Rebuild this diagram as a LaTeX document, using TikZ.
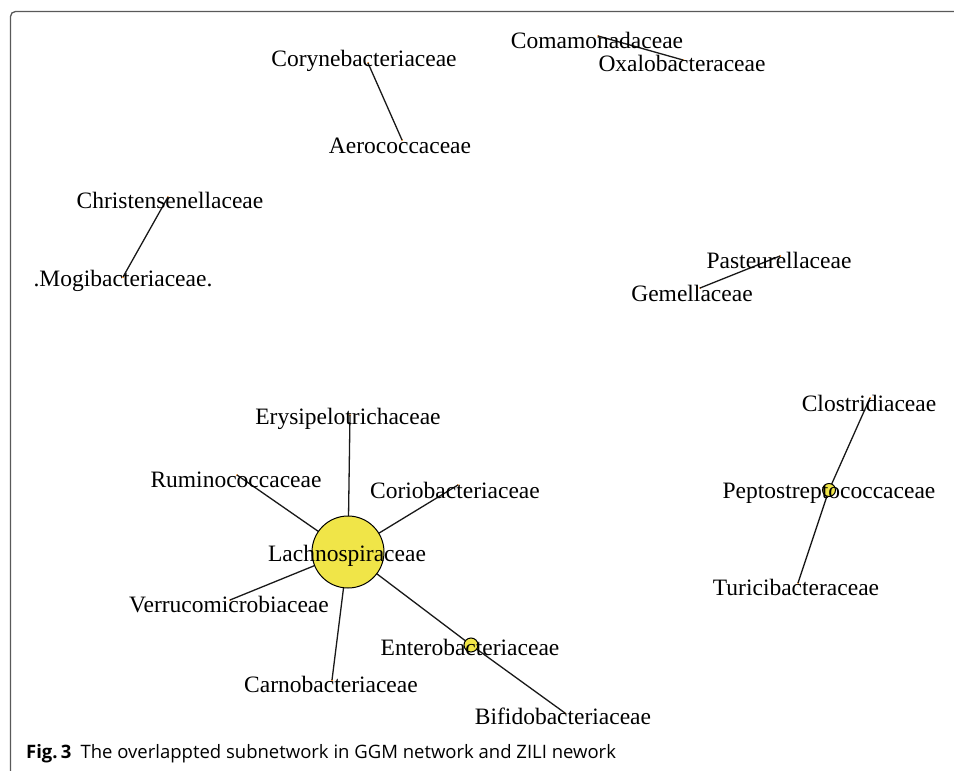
\documentclass[tikz,border=0pt]{standalone}
\usepackage{fontspec}
\setmainfont{Liberation Serif}
\newfontfamily\capfont{Open Sans}
\begin{document}
\begin{tikzpicture}[x=1pt,y=-1pt,
  lab/.style={font=\fontsize{23.5}{26}\selectfont, inner sep=0pt, anchor=base},
  dot/.style={circle, fill=orange, inner sep=0pt, minimum size=2pt},
  hub/.style={circle, draw=black, line width=1pt, fill={rgb,255:red,240;green,229;blue,72}, inner sep=0pt},
  edge/.style={draw=black!90, line width=1.3pt},
  frame/.style={draw=black!65, line width=1.3pt, rounded corners=5pt}]
\useasboundingbox (0,0) rectangle (954,771);
\fill[white] (0,0) rectangle (954,771);
\draw[frame] (10.5,771) -- (10.5,11.5) -- (954,11.5);
% vertices
\node[dot] (cory) at (368,63) {};
\node[dot] (aero) at (402,140) {};
\node[dot] (chri) at (168,197) {};
\node[dot] (mogi) at (123,277) {};
\node[dot] (coma) at (598,36) {};
\node[dot] (oxal) at (683,60) {};
\node[dot] (past) at (780,256) {};
\node[dot] (geme) at (700,288) {};
\node[dot] (erys) at (350,415) {};
\node[dot] (rumi) at (237,475) {};
\node[dot] (cori) at (458,485) {};
\node[dot] (verr) at (230,600) {};
\node[dot] (carn) at (332,680) {};
\node[dot] (bifi) at (565,713) {};
\node[dot] (clos) at (870,398) {};
\node[dot] (turi) at (798,583) {};
% edges
\path[edge] (cory.center) -- (aero.center);
\path[edge] (chri.center) -- (mogi.center);
\path[edge] (coma.center) -- (oxal.center);
\path[edge] (past.center) -- (geme.center);
\path[edge] (erys.center) -- (348,552);
\path[edge] (rumi.center) -- (348,552);
\path[edge] (cori.center) -- (348,552);
\path[edge] (verr.center) -- (348,552);
\path[edge] (carn.center) -- (348,552);
\path[edge] (471,645) -- (348,552);
\path[edge] (471,645) -- (bifi.center);
\path[edge] (clos.center) -- (829,490) -- (turi.center);
% hubs
\node[hub, minimum size=72pt] (lach) at (348,552) {};
\node[hub, minimum size=14pt] (ente) at (471,645) {};
\node[hub, minimum size=13pt] (pept) at (829,490) {};
% labels
\node[lab] (tcory) at (364,66) {Corynebacteriaceae};
\node[lab] (taero) at (400,153) {Aerococcaceae};
\node[lab] (tchri) at (170,208) {Christensenellaceae};
\node[lab] (tmogi) at (123,286) {.Mogibacteriaceae.};
\node[lab] (tcoma) at (597,48) {Comamonadaceae};
\node[lab] (toxal) at (682,71) {Oxalobacteraceae};
\node[lab] (tpast) at (779,268) {Pasteurellaceae};
\node[lab] (tgeme) at (692,301) {Gemellaceae};
\node[lab] (terys) at (348,424) {Erysipelotrichaceae};
\node[lab] (trumi) at (236,487) {Ruminococcaceae};
\node[lab] (tcori) at (455,498) {Coriobacteriaceae};
\node[lab] (tlach) at (347,561) {Lachnospiraceae};
\node[lab] (tverr) at (229,612) {Verrucomicrobiaceae};
\node[lab] (tcarn) at (331,692) {Carnobacteriaceae};
\node[lab] (tente) at (470,655) {Enterobacteriaceae};
\node[lab] (tbifi) at (563,724) {Bifidobacteriaceae};
\node[lab] (tclos) at (869,411) {Clostridiaceae};
\node[lab] (tpept) at (829,498) {Peptostreptococcaceae};
\node[lab] (tturi) at (796,595) {Turicibacteraceae};
% caption
\node[anchor=base west, inner sep=0pt, font=\capfont\fontsize{18.5}{20}\selectfont] (cap) at (26,758) {\textbf{Fig.\,3}\hspace{0.5em}The overlappted subnetwork in GGM network and ZILI nework};
\end{tikzpicture}
\end{document}
